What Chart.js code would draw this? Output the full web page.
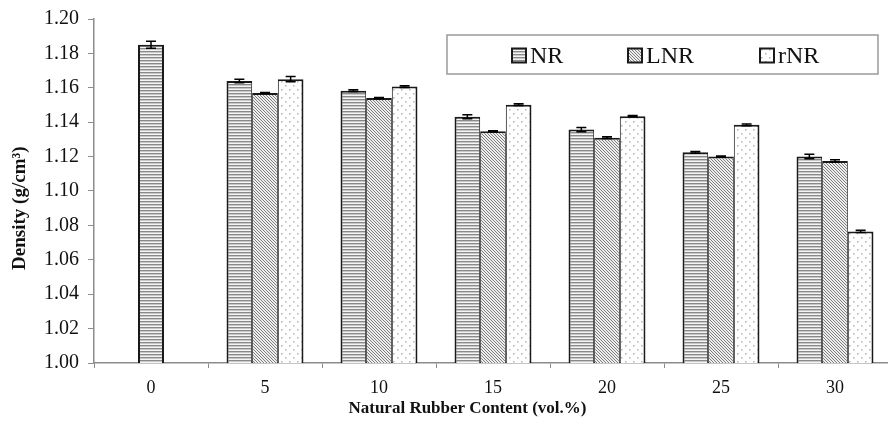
<!DOCTYPE html>
<html>
<head>
<meta charset="utf-8">
<script src="https://cdn.jsdelivr.net/npm/chart.js@4/dist/chart.umd.min.js"></script>
<style>
  html, body { margin: 0; padding: 0; background: #fff; overflow: hidden; }
  #wrap { width: 892px; height: 431px; position: relative; }
</style>
</head>
<body>
<div id="wrap"><canvas id="c"></canvas></div>
<script>
// Density of the blends versus natural rubber content
const categories = ['0', '5', '10', '15', '20', '25', '30'];
const seriesNames = ['NR', 'LNR', 'rNR'];

const nrDensity  = [1.185, 1.1640, 1.1583, 1.1432, 1.1357, 1.1225, 1.1200];
const nrError    = [0.0020, 0.0010, 0.0005, 0.0012, 0.0012, 0.0005, 0.0013];
const lnrDensity = [null, 1.1570, 1.1540, 1.1348, 1.1310, 1.1200, 1.1175];
const lnrError   = [null, 0.0003, 0.0003, 0.0003, 0.0005, 0.0004, 0.0006];
const rnrDensity = [null, 1.1650, 1.1607, 1.1502, 1.1435, 1.1385, 1.0765];
const rnrError   = [null, 0.0015, 0.0005, 0.0005, 0.0004, 0.0005, 0.0007];

const yMin = 1.00, yMax = 1.20, yStep = 0.02;
const xTitle = 'Natural Rubber Content (vol.%)';
const yTitle = 'Density (g/cm³)';

const SERIF = '"Liberation Serif", "Times New Roman", serif';

// Fill patterns for the bars
function makePattern(kind) {
  const t = document.createElement('canvas');
  const g = t.getContext('2d');
  if (kind === 'hlines') {
    t.width = 4; t.height = 3;
    g.fillStyle = '#f4f4f4'; g.fillRect(0, 0, 4, 3);
    g.fillStyle = '#8a8a8a'; g.fillRect(0, 0, 4, 1);
    g.fillStyle = '#c8c8c8'; g.fillRect(0, 1, 4, 1);
  } else if (kind === 'diag') {
    t.width = 3; t.height = 3;
    g.fillStyle = '#eeeeee'; g.fillRect(0, 0, 3, 3);
    g.fillStyle = '#7e7e7e';
    for (let i = 0; i < 3; i++) g.fillRect(i, i, 1, 1);
  } else {
    t.width = 8; t.height = 8;
    g.fillStyle = '#ffffff'; g.fillRect(0, 0, 8, 8);
    g.fillStyle = '#b4b4b4';
    g.fillRect(1, 1, 1.5, 1.5);
    g.fillRect(5, 5, 1.5, 1.5);
  }
  return g.createPattern(t, 'repeat');
}

const fills = [makePattern('hlines'), makePattern('diag'), makePattern('dots')];
const errorSets = [nrError, lnrError, rnrError];
const valueSets = [nrDensity, lnrDensity, rnrDensity];

// Shared edges between neighbouring bars get a single 2px line
function edgeWidths(dsIndex) {
  return (ctx) => {
    const i = ctx.dataIndex;
    const hasLeft = dsIndex > 0 && valueSets[dsIndex - 1][i] != null;
    const hasRight = dsIndex < 2 && valueSets[dsIndex + 1][i] != null;
    return { top: 2, bottom: 2, left: hasLeft ? 1 : 2, right: hasRight ? 1 : 2 };
  };
}

const datasets = valueSets.map((vals, k) => ({
  label: seriesNames[k],
  data: vals,
  backgroundColor: fills[k],
  borderColor: '#1a1a1a',
  borderWidth: edgeWidths(k),
  borderSkipped: false,
  errorValues: errorSets[k]
}));

// Error bars with caps
const errorBarPlugin = {
  id: 'errorBarPlugin',
  afterDatasetsDraw(chart) {
    const ctx = chart.ctx;
    const ys = chart.scales.y;
    chart.data.datasets.forEach((ds, di) => {
      const meta = chart.getDatasetMeta(di);
      meta.data.forEach((bar, i) => {
        const v = ds.data[i];
        const e = ds.errorValues[i];
        if (v == null || e == null) return;
        const yTop = ys.getPixelForValue(v + e);
        const yBot = ys.getPixelForValue(v - e);
        const half = 5;
        ctx.save();
        ctx.strokeStyle = '#000';
        ctx.lineWidth = 1.5;
        ctx.beginPath();
        ctx.moveTo(bar.x, yTop); ctx.lineTo(bar.x, yBot);
        ctx.moveTo(bar.x - half, yTop); ctx.lineTo(bar.x + half, yTop);
        ctx.moveTo(bar.x - half, yBot); ctx.lineTo(bar.x + half, yBot);
        ctx.stroke();
        ctx.restore();
      });
    });
  }
};

// Axis titles, placed relative to the plot area
const axisTitles = {
  id: 'axisTitles',
  afterDraw(chart) {
    const ctx = chart.ctx;
    const a = chart.chartArea;
    ctx.save();
    ctx.fillStyle = '#111';
    ctx.font = 'bold 17px ' + SERIF;
    ctx.textAlign = 'center';
    ctx.textBaseline = 'middle';
    ctx.fillText(xTitle, a.left + (a.right - a.left) * 0.468, 409);
    ctx.translate(20, a.top + (a.bottom - a.top) * 0.55);
    ctx.rotate(-Math.PI / 2);
    ctx.font = 'bold 19px ' + SERIF;
    ctx.fillText(yTitle, 0, 0);
    ctx.restore();
  }
};

// Boxed legend inside the plot area
const boxedLegend = {
  id: 'boxedLegend',
  afterDraw(chart) {
    const ctx = chart.ctx;
    const box = { x: 447, y: 35, w: 431, h: 39 };
    ctx.save();
    ctx.fillStyle = '#fff';
    ctx.fillRect(box.x, box.y, box.w, box.h);
    ctx.strokeStyle = '#9a9a9a';
    ctx.lineWidth = 1.5;
    ctx.strokeRect(box.x, box.y, box.w, box.h);
    const itemX = [512, 628, 760];
    const cy = box.y + box.h / 2 + 1;
    ctx.font = '24px ' + SERIF;
    ctx.textBaseline = 'middle';
    chart.data.datasets.forEach((ds, k) => {
      const sx = itemX[k], sz = 14;
      ctx.fillStyle = ds.backgroundColor;
      ctx.fillRect(sx, cy - sz / 2, sz, sz);
      ctx.strokeStyle = '#1a1a1a';
      ctx.lineWidth = 2;
      ctx.strokeRect(sx, cy - sz / 2, sz, sz);
      ctx.fillStyle = '#111';
      ctx.fillText(ds.label, sx + sz + 4, cy + 1);
    });
    ctx.restore();
  }
};

new Chart(document.getElementById('c'), {
  type: 'bar',
  data: { labels: categories, datasets },
  plugins: [errorBarPlugin, axisTitles, boxedLegend],
  options: {
    responsive: true,
    maintainAspectRatio: false,
    animation: false,
    devicePixelRatio: 1,
    skipNull: true,
    categoryPercentage: 0.675,
    barPercentage: 1.0,
    maxBarThickness: 26,
    layout: { padding: { top: 18, right: 0, left: 0, bottom: 0 } },
    plugins: {
      legend: { display: false },
      tooltip: { enabled: false }
    },
    scales: {
      x: {
        offset: true,
        grid: { display: true, drawOnChartArea: false, drawTicks: true, tickLength: 5, color: '#8c8c8c', offset: true },
        border: { display: true, color: '#8c8c8c', width: 1.5 },
        ticks: { color: '#111', font: { family: SERIF, size: 18 }, padding: 9, maxRotation: 0 },
        afterFit(scale) { scale.height = 68; }
      },
      y: {
        min: yMin,
        max: yMax,
        grid: { display: true, drawOnChartArea: false, drawTicks: true, tickLength: 6, color: '#8c8c8c' },
        border: { display: true, color: '#8c8c8c', width: 1.5 },
        ticks: {
          stepSize: yStep,
          color: '#111',
          padding: 9,
          font: { family: SERIF, size: 20, lineHeight: 1.0 },
          callback: (v) => Number(v).toFixed(2)
        },
        afterFit(scale) { scale.width = 94; }
      }
    }
  }
});
</script>
</body>
</html>
